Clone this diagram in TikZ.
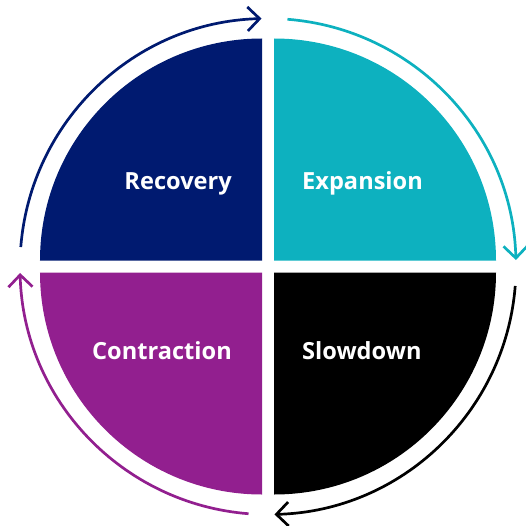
\documentclass[tikz,border=0pt]{standalone}
\usepackage{fontspec}
\setmainfont{Open Sans}
\usetikzlibrary{arrows.meta}

\definecolor{cycnavy}{HTML}{001A70}
\definecolor{cycteal}{HTML}{0DB1BF}
\definecolor{cycpurple}{HTML}{921F8F}

\tikzset{
  phase/.style={text=white, font=\bfseries\fontsize{23.6}{28}\selectfont, inner sep=0pt},
  cyclearc/.style={line width=2.7pt, -{Straight Barb[length=12pt,width=24pt]}}
}

\begin{document}
\begin{tikzpicture}[x=1pt,y=1pt]
  \useasboundingbox (-268,-258.5) rectangle (258,266.5);

  % Quadrants
  \foreach \ang/\col/\dx/\dy in {90/cycnavy/-6/6, 0/cycteal/6/6, 180/cycpurple/-6/-6, 270/black/6/-6}
    \fill[\col] (\dx,\dy) -- ++(\ang:222) arc[start angle=\ang, delta angle=90, radius=222] -- cycle;

  % Outer arrows
  \foreach \a/\col in {175.5/cycnavy, 85.5/cycteal, -4.5/black, -94.5/cycpurple}
    \draw[\col, cyclearc] (\a:248) arc[start angle=\a, delta angle=-84, radius=248];

  % Labels
  \node[phase, anchor=base east] (rec) at (-36,77.5) {Recovery};
  \node[phase, anchor=base west] (exp) at (34,77.5) {Expansion};
  \node[phase, anchor=base east] (con) at (-36,-92.5) {Contraction};
  \node[phase, anchor=base west] (slo) at (34,-92.5) {Slowdown};
\end{tikzpicture}
\end{document}
